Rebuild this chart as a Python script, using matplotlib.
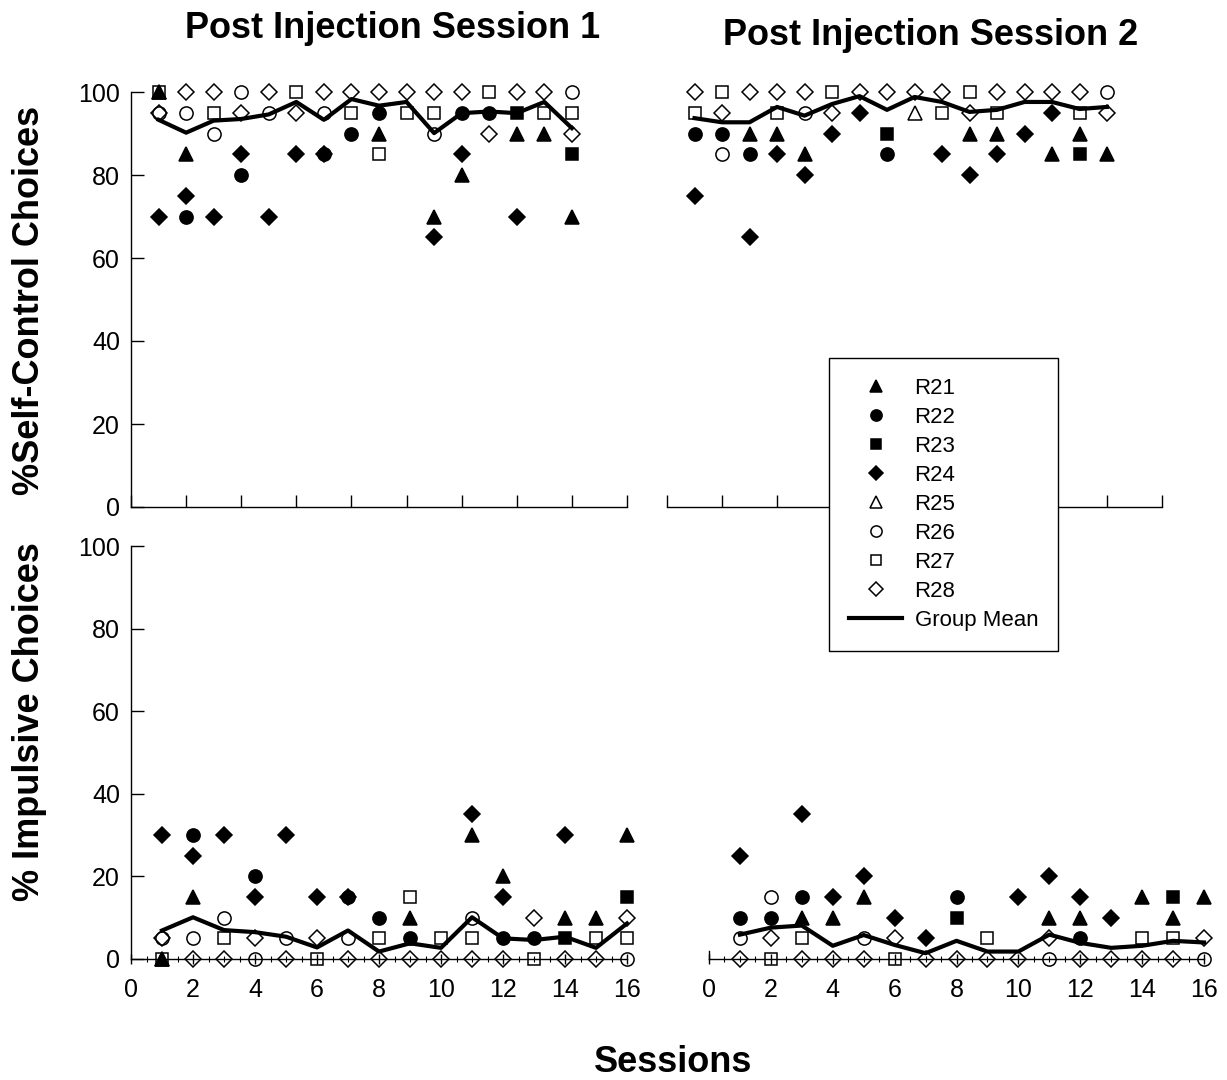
import numpy as np
import matplotlib
matplotlib.use('Agg')
import matplotlib.pyplot as plt
from matplotlib.lines import Line2D
from matplotlib.ticker import MultipleLocator

plt.rcParams['font.family'] = ['Liberation Sans', 'DejaVu Sans']

n = np.nan
sessions = np.arange(1, 17)
rats = ['R21', 'R22', 'R23', 'R24', 'R25', 'R26', 'R27', 'R28']

# % self-control choices, post injection session 1
sc1 = {
    'R21': [100, 85, n, n, n, n, n, n, 90, n, 70, 80, n, 90, 90, 70],
    'R22': [n, 70, n, 80, n, n, 85, 90, 95, n, n, 95, 95, n, n, n],
    'R23': [n, n, n, n, n, n, n, n, n, n, n, n, n, 95, n, 85],
    'R24': [70, 75, 70, 85, 70, 85, 85, n, n, n, 65, 85, n, 70, n, n],
    'R25': [100, n, n, n, n, n, n, n, n, n, n, n, n, n, n, n],
    'R26': [95, 95, 90, 100, 95, n, 95, n, n, n, 90, n, n, n, n, 100],
    'R27': [100, n, 95, n, n, 100, n, 95, 85, 95, 95, n, 100, n, 95, 95],
    'R28': [95, 100, 100, 95, 100, 95, 100, 100, 100, 100, 100, 100, 90, 100, 100, 90],
}
sc1_mean = [93.3, 90.2, 93.1, 93.5, 94.6, 97.6, 93.3, 98.3, 96.7, 97.6, 90.1, 94.9, 95.3, 94.9, 97.6, 91.3]

# % impulsive choices, post injection session 1
imp1 = {
    'R21': [0, 15, n, n, n, n, n, n, 10, n, 30, 20, n, 10, 10, 30],
    'R22': [n, 30, n, 20, n, n, 15, 10, 5, n, n, 5, 5, n, n, n],
    'R23': [n, n, n, n, n, n, n, n, n, n, n, n, n, 5, n, 15],
    'R24': [30, 25, 30, 15, 30, 15, 15, n, n, n, 35, 15, n, 30, n, n],
    'R25': [0, n, n, n, n, n, n, n, n, n, n, n, n, n, n, n],
    'R26': [5, 5, 10, 0, 5, n, 5, n, n, n, 10, n, n, n, n, 0],
    'R27': [0, n, 5, n, n, 0, n, 5, 15, 5, 5, n, 0, n, 5, 5],
    'R28': [5, 0, 0, 5, 0, 5, 0, 0, 0, 0, 0, 0, 10, 0, 0, 10],
}
imp1_mean = [6.9, 10.1, 7.0, 6.5, 5.4, 2.8, 6.9, 1.8, 3.8, 2.7, 10.1, 5.0, 4.6, 5.4, 2.7, 8.6]

# % self-control choices, post injection session 2
sc2 = {
    'R21': [n, n, 90, 90, 85, n, n, n, n, n, 90, 90, n, 85, 90, 85],
    'R22': [90, 90, 85, n, n, n, n, 85, n, n, n, n, n, n, n, n],
    'R23': [n, n, n, n, n, n, n, 90, n, n, n, n, n, n, 85, n],
    'R24': [75, n, 65, 85, 80, 90, 95, n, n, 85, 80, 85, 90, 95, n, n],
    'R25': [n, n, n, n, n, n, n, n, 95, n, n, n, n, n, n, n],
    'R26': [n, 85, n, n, 95, n, n, n, n, n, n, n, n, n, n, 100],
    'R27': [95, 100, n, 95, n, 100, n, n, n, 95, 100, 95, n, n, 95, n],
    'R28': [100, 95, 100, 100, 100, 95, 100, 100, 100, 100, 95, 100, 100, 100, 100, 95],
}
sc2_mean = [93.7, 92.7, 92.7, 96.4, 94.3, 97.1, 99.0, 95.7, 98.8, 97.6, 95.2, 95.7, 97.6, 97.6, 95.9, 96.4]

# % impulsive choices, post injection session 2
imp2 = {
    'R21': [n, n, 10, 10, 15, n, n, n, n, n, 10, 10, n, 15, 10, 15],
    'R22': [10, 10, 15, n, n, n, n, 15, n, n, n, 5, n, n, n, n],
    'R23': [n, n, n, n, n, n, n, 10, n, n, n, n, n, n, 15, n],
    'R24': [25, n, 35, 15, 20, 10, 5, n, n, 15, 20, 15, 10, n, n, n],
    'R25': [n, n, n, n, n, n, n, n, n, n, n, n, n, n, n, n],
    'R26': [5, 15, n, n, 5, n, n, n, n, n, 0, n, n, n, n, 0],
    'R27': [n, 0, 5, n, n, 0, n, n, 5, n, n, n, n, 5, 5, n],
    'R28': [0, 5, 0, 0, 0, 5, 0, 0, 0, 0, 5, 0, 0, 0, 0, 5],
}
imp2_mean = [5.9, 7.6, 8.1, 3.2, 5.8, 3.4, 1.4, 4.4, 1.8, 1.8, 5.9, 3.9, 2.7, 3.2, 4.4, 4.0]

# marker, face colour, size
styles = {
    'R21': ('^', 'black', 10.5),
    'R22': ('o', 'black', 9.5),
    'R23': ('s', 'black', 8.5),
    'R24': ('D', 'black', 8),
    'R25': ('^', 'none', 10.5),
    'R26': ('o', 'none', 9.5),
    'R27': ('s', 'none', 8.5),
    'R28': ('D', 'none', 8),
}

W, H = 1227, 1080
fig = plt.figure(figsize=(W / 100, H / 100), dpi=100)


def px_axes(x0, x1, y0, y1):
    return fig.add_axes([x0 / W, 1 - y1 / H, (x1 - x0) / W, (y1 - y0) / H])


def draw(ax, data, mean):
    for rat in rats:
        marker, face, ms = styles[rat]
        ax.plot(sessions, data[rat], linestyle='none', marker=marker, ms=ms,
                mfc=face, mec='black', mew=1.1, clip_on=False, zorder=3)
    ax.plot(sessions, mean, color='black', lw=3, clip_on=False, zorder=4)
    ax.set_ylim(0, 100)
    for side in ['top', 'right']:
        ax.spines[side].set_visible(False)
    for side in ['left', 'bottom']:
        ax.spines[side].set_linewidth(1)


ax_tl = px_axes(131, 627, 92, 507)
ax_tr = px_axes(667, 1162, 92, 507)
ax_bl = px_axes(131, 627, 546, 959)
ax_br = px_axes(709, 1204, 546, 959)

draw(ax_tl, sc1, sc1_mean)
draw(ax_tr, sc2, sc2_mean)
draw(ax_bl, imp1, imp1_mean)
draw(ax_br, imp2, imp2_mean)

# top row: 0-18 scale, no session labels
for ax in [ax_tl, ax_tr]:
    ax.set_xlim(0, 18)
    ax.xaxis.set_major_locator(MultipleLocator(2))
    ax.tick_params(axis='x', direction='in', length=9, width=1, labelbottom=False)

# bottom row: sessions 0-16
for ax in [ax_bl, ax_br]:
    ax.set_xlim(0, 16)
    ax.xaxis.set_major_locator(MultipleLocator(2))
    ax.xaxis.set_minor_locator(MultipleLocator(0.5))
    ax.tick_params(axis='x', which='major', direction='inout', length=7, width=1,
                   labelsize=18, pad=10)
    ax.tick_params(axis='x', which='minor', direction='inout', length=4, width=0.8)

for ax in [ax_tl, ax_bl]:
    ax.yaxis.set_major_locator(MultipleLocator(20))
    ax.tick_params(axis='y', direction='in', length=9, width=1, labelsize=18, pad=8)

for ax in [ax_tr, ax_br]:
    ax.set_yticks([])
ax_tr.spines['left'].set_visible(False)
ax_br.spines['left'].set_bounds(0, 2)

fig.text(393 / W, 1 - 38 / H, 'Post Injection Session 1', ha='center', va='baseline',
         fontsize=26, fontweight='bold')
fig.text(931 / W, 1 - 45 / H, 'Post Injection Session 2', ha='center', va='baseline',
         fontsize=26, fontweight='bold')
fig.text(30 / W, 1 - 300 / H, '%Self-Control Choices', ha='center', va='center',
         rotation=90, fontsize=26, fontweight='bold')
fig.text(30 / W, 1 - 722 / H, '% Impulsive Choices', ha='center', va='center',
         rotation=90, fontsize=26, fontweight='bold')
fig.text(673 / W, 1 - 1072 / H, 'Sessions', ha='center', va='baseline',
         fontsize=26, fontweight='bold')

handles = []
for rat in rats:
    marker, face, ms = styles[rat]
    handles.append(Line2D([], [], linestyle='none', marker=marker, ms=ms * 0.85,
                          mfc=face, mec='black', mew=1.1))
handles.append(Line2D([], [], color='black', lw=3))
labels = rats + ['Group Mean']

leg = fig.legend(handles, labels, loc='upper left', bbox_to_anchor=(829 / W, 1 - 358 / H),
                 fontsize=16, frameon=True, fancybox=False, framealpha=1,
                 edgecolor='black', borderaxespad=0, handlelength=2.4,
                 handletextpad=0.55, labelspacing=0.36, borderpad=0.9)
leg.get_frame().set_linewidth(1)

fig.savefig('out.png', dpi=100)
